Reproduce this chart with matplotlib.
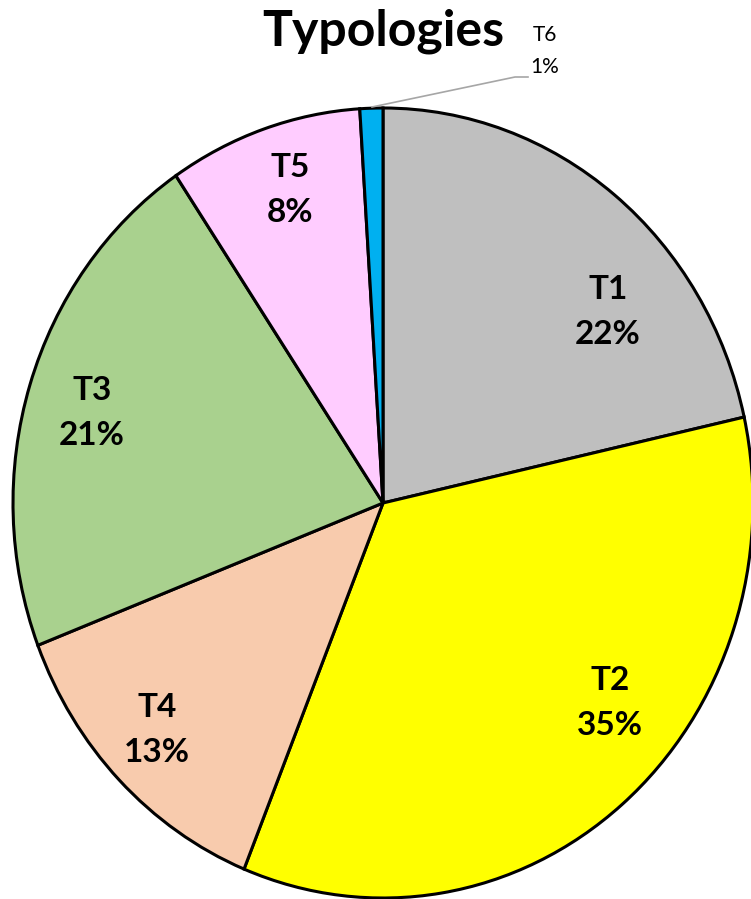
import matplotlib
matplotlib.use("Agg")
import matplotlib.pyplot as plt

categories = ["T1", "T2", "T4", "T3", "T5", "T6"]
values = [21.5, 34.6, 13.0, 21.4, 8.45, 1.0]
colors = ["#BFBFBF", "#FFFF00", "#F8CBAD", "#A9D18E", "#FFCCFF", "#00B0F0"]

W, H = 751, 899
cx, cy = 383, 503
rx, ry = 370, 395

fig = plt.figure(figsize=(W / 100, H / 100), dpi=100)
ax = fig.add_axes([0, 0, 1, 1])
ax.pie(values, colors=colors, startangle=90, counterclock=False,
       wedgeprops=dict(edgecolor="black", linewidth=2.2), radius=1.0)
ax.set_aspect("auto")
ax.set_xlim(-cx / rx, (W - cx) / rx)
ax.set_ylim(-(H - cy) / ry, cy / ry)
ax.axis("off")

fam = ["Lato", "DejaVu Sans"]
label_pos = {"T1": (0.608, 0.484), "T2": (0.614, -0.506), "T3": (-0.786, 0.228),
             "T4": (-0.611, -0.575), "T5": (-0.251, 0.792)}
for cat, v in zip(categories, values):
    txt = f"{cat}\n{round(v):.0f}%"
    if cat in label_pos:
        x, y = label_pos[cat]
        ax.text(x, y, txt, ha="center", va="center", fontsize=24,
                fontweight="bold", family=fam, linespacing=1.65)
    else:
        ax.text((545 - cx) / rx, (cy - 51) / ry, txt, ha="center", va="center",
                fontsize=15, family=fam, linespacing=1.75)
        ax.plot([(372 - cx) / rx, (515 - cx) / rx, (528 - cx) / rx],
                [(cy - 107) / ry, (cy - 77) / ry, (cy - 77) / ry],
                color="#A6A6A6", lw=1.2)

fig.text(cx / W, 1 - 31 / H, "Typologies", ha="center", va="center",
         fontsize=36, fontweight="bold", family=fam)

fig.savefig("out.png", dpi=100)
